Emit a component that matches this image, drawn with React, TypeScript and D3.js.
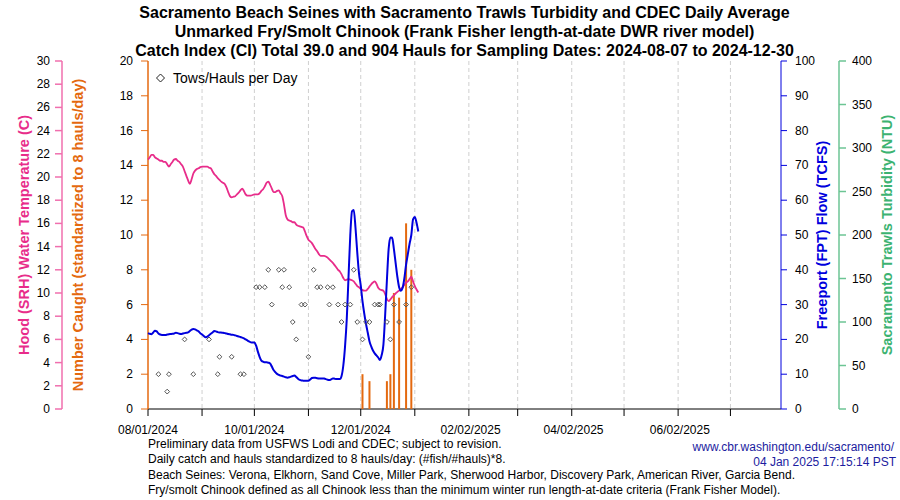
import React from "react";
import * as d3 from "d3";

// ---------- DATA ----------
const startDate = "2024-08-01";
const endDate = "2025-07-30";

// Hood (SRH) water temperature (C), daily from 2024-08-01
const temperature = [
  21.5, 21.7, 21.9, 21.9, 21.7, 21.6, 21.5, 21.4, 21.4, 21.3,
  21.3, 21.1, 20.9, 21.1, 21.3, 21.5, 21.55, 21.4, 21.3, 21.1,
  20.9, 20.5, 20.1, 19.7, 19.4, 19.8, 20.3, 20.55, 20.7, 20.75,
  20.85, 20.9, 20.9, 20.9, 20.9, 20.8, 20.75, 20.5, 20.25, 20.1,
  19.9, 19.75, 19.6, 19.5, 19.4, 19.1, 18.7, 18.35, 18.25, 18.3,
  18.35, 18.5, 18.65, 18.85, 19.0, 18.8, 18.5, 18.4, 18.4, 18.4,
  18.45, 18.5, 18.5, 18.5, 18.6, 18.8, 18.95, 19.2, 19.5, 19.6,
  19.35, 19.0, 18.7, 18.7, 18.8, 18.85, 18.6, 18.35, 17.6, 16.7,
  16.35, 16.25, 16.2, 16.1, 16.1, 15.9, 15.8, 15.75, 15.7, 15.65,
  15.3, 14.9, 14.6, 14.45, 14.3, 14.05, 13.8, 13.6, 13.35, 13.2,
  13.2, 13.2, 13.15, 13.05, 12.9, 12.75, 12.6, 12.4, 12.2, 12.0,
  11.85, 11.6, 11.3, 11.1, 11.15, 11.2, 11.15, 11.1, 11.0, 10.8,
  10.6, 10.5, 10.35, 10.25, 10.2, 10.2, 10.35, 10.55, 10.75, 10.9,
  11.0, 10.8, 10.45, 10.3, 10.25, 10.2, 9.9, 9.5, 9.3, 9.45,
  9.65, 9.8, 9.95, 10.1, 10.2, 10.35, 10.5, 10.7, 10.9, 11.0,
  11.2, 11.4, 11.0, 10.6, 10.3, 10.05,
];

// Freeport (FPT) flow (TCFS), daily from 2024-08-01
const flow = [
  21.8, 21.6, 21.5, 22.0, 22.5, 22.3, 21.7, 21.4, 21.3, 21.3,
  21.3, 21.4, 21.5, 21.55, 21.6, 21.7, 21.9, 21.8, 21.6, 21.55,
  21.7, 21.8, 21.9, 22.0, 22.4, 22.8, 23.0, 22.9, 22.6, 22.3,
  21.8, 21.4, 21.0, 20.6, 20.8, 21.2, 21.6, 22.0, 22.4, 22.3,
  22.1, 22.0, 21.95, 21.9, 21.8, 21.7, 21.55, 21.45, 21.35, 21.3,
  21.15, 21.0, 20.85, 20.7, 20.5, 20.3, 20.0, 19.7, 19.4, 19.15,
  19.1, 19.1, 18.2, 16.5, 15.0, 13.9, 13.6, 13.4, 13.4, 13.3,
  13.1, 12.2, 11.2, 10.6, 10.1, 9.8, 9.6, 9.5, 9.3, 9.1,
  9.0, 9.1, 9.3, 9.5, 9.6, 9.2, 8.7, 8.35, 8.2, 8.15,
  8.1, 8.1, 8.1, 8.5, 8.9, 9.0, 8.95, 8.85, 8.8, 8.8,
  8.8, 8.75, 8.6, 8.4, 8.3, 8.5, 8.8, 8.7, 8.6, 8.6,
  8.6, 9.5, 12.5, 18.0, 26.0, 38.0, 50.0, 56.8, 57.2, 52.0,
  45.0, 39.0, 35.5, 31.0, 27.5, 24.5, 22.0, 19.5, 18.0, 16.8,
  16.0, 15.4, 14.8, 14.1, 15.5, 18.5, 27.0, 37.0, 46.0, 49.3,
  49.2, 46.0, 42.0, 38.0, 35.0, 34.0, 34.8, 37.5, 41.5, 44.5,
  47.5, 50.0, 54.5, 55.2, 53.5, 51.0,
];

// Tows/hauls per day
const haulDates = [
  "2024-08-07", "2024-08-12", "2024-08-13", "2024-08-22", "2024-08-27",
  "2024-09-05", "2024-09-10", "2024-09-11", "2024-09-18", "2024-09-23",
  "2024-09-25", "2024-10-02", "2024-10-04", "2024-10-07", "2024-10-09",
  "2024-10-11", "2024-10-15", "2024-10-17", "2024-10-18", "2024-10-21",
  "2024-10-23", "2024-10-25", "2024-10-28", "2024-10-30", "2024-11-01",
  "2024-11-04", "2024-11-06", "2024-11-08", "2024-11-12", "2024-11-13",
  "2024-11-15", "2024-11-18", "2024-11-20", "2024-11-22", "2024-11-25",
  "2024-11-27", "2024-11-29", "2024-12-02", "2024-12-04", "2024-12-06",
  "2024-12-09", "2024-12-11", "2024-12-12", "2024-12-16", "2024-12-18",
  "2024-12-20", "2024-12-23", "2024-12-27", "2024-12-30",
];
const haulCounts = [
  2, 1, 2, 4, 2,
  4, 2, 3, 3, 2,
  2, 7, 7, 7, 8,
  6, 8, 7, 8, 7,
  5, 4, 6, 6, 3,
  8, 7, 7, 7, 6,
  7, 6, 5, 6, 6,
  8, 5, 4, 5, 5,
  6, 6, 6, 5, 4,
  6, 5, 6, 7,
];

// Number caught (standardized to 8 hauls/day)
const catchDates = [
  "2024-12-02", "2024-12-06", "2024-12-16", "2024-12-18",
  "2024-12-20", "2024-12-23", "2024-12-27", "2024-12-30",
];
const catchValues = [2.0, 1.6, 1.6, 2.0, 6.67, 6.4, 10.67, 8.0];

const xTickLabels = ["08/01/2024", "10/01/2024", "12/01/2024", "02/02/2025", "04/02/2025", "06/02/2025"];
const tempTicks = d3.range(0, 31, 2);
const countTicks = d3.range(0, 21, 2);
const flowTicks = d3.range(0, 101, 10);
const turbTicks = d3.range(0, 401, 50);

const titleLines = [
  "Sacramento Beach Seines with Sacramento Trawls Turbidity and CDEC Daily Average",
  "Unmarked Fry/Smolt Chinook (Frank Fisher length-at-date DWR river model)",
  "Catch Index (CI) Total 39.0 and 904 Hauls for Sampling Dates: 2024-08-07 to 2024-12-30",
];
const footerLines = [
  "Preliminary data from USFWS Lodi and CDEC; subject to revision.",
  "Daily catch and hauls standardized to 8 hauls/day: (#fish/#hauls)*8.",
  "Beach Seines: Verona, Elkhorn, Sand Cove, Miller Park, Sherwood Harbor, Discovery Park, American River, Garcia Bend.",
  "Fry/smolt Chinook defined as all Chinook less than the minimum winter run length-at-date criteria (Frank Fisher Model).",
];
const creditLines = ["www.cbr.washington.edu/sacramento/", "04 Jan 2025 17:15:14 PST"];

// ---------- STYLE ----------
const FONT = "'Liberation Sans', Arial, Helvetica, sans-serif";
const PINK = "#e82c8a";
const PINK_AXIS = "#f06fae";
const ORANGE = "#e4690f";
const BLUE = "#0000dd";
const GREEN = "#3cb371";
const GREEN_AXIS = "#6cc594";
const CREDIT = "#1c1ca0";

const W = 900;
const H = 500;
const L = 148;
const R = 781;
const T = 61;
const B = 409;

const parse = d3.utcParse("%Y-%m-%d");
const parseTick = d3.utcParse("%m/%d/%Y");

export default function App() {
  const x = d3.scaleUtc().domain([parse(startDate)!, parse(endDate)!]).range([L, R]);
  const yTemp = d3.scaleLinear().domain([0, 30]).range([B, T]);
  const yCount = d3.scaleLinear().domain([0, 20]).range([B, T]);
  const yFlow = d3.scaleLinear().domain([0, 100]).range([B, T]);
  const yTurb = d3.scaleLinear().domain([0, 400]).range([B, T]);

  const day0 = parse(startDate)!;
  const dayDate = (i: number) => d3.utcDay.offset(day0, i);

  const tempLine = d3
    .line<number>()
    .x((_, i) => x(dayDate(i)))
    .y((d) => yTemp(d))
    .curve(d3.curveMonotoneX);
  const flowLine = d3
    .line<number>()
    .x((_, i) => x(dayDate(i)))
    .y((d) => yFlow(d))
    .curve(d3.curveMonotoneX);

  const monthTicks = d3.utcMonth.range(day0, parse(endDate)!);
  const gridMonths = monthTicks.filter((d) => +d > +day0);

  const diamond = (cx: number, cy: number, r: number) =>
    `M${cx},${cy - r}L${cx + r},${cy}L${cx},${cy + r}L${cx - r},${cy}Z`;

  const tempAxisX = 62;
  const turbAxisX = 839;

  return (
    <svg
      width={W}
      height={H}
      style={{ position: "absolute", left: 0, top: 0, background: "#fff" }}
      fontFamily={FONT}
    >
      <rect x={0} y={0} width={W} height={H} fill="#fff" />

      {/* Title */}
      {titleLines.map((t, i) => (
        <text key={i} x={(L + R) / 2} y={18 + i * 19} textAnchor="middle" fontSize={16} fontWeight="bold" fill="#000">
          {t}
        </text>
      ))}

      {/* gridlines */}
      {gridMonths.map((d, i) => (
        <line key={i} x1={x(d)} x2={x(d)} y1={T} y2={B} stroke="#cfcfcf" strokeWidth={1} strokeDasharray="4,3" />
      ))}

      {/* x axis */}
      <line x1={L} x2={R} y1={B} y2={B} stroke="#000" strokeWidth={1} />
      {monthTicks.map((d, i) => (
        <line key={i} x1={x(d)} x2={x(d)} y1={B} y2={B + 7} stroke="#000" strokeWidth={1} />
      ))}
      {xTickLabels.map((s, i) => (
        <text key={i} x={x(parseTick(s)!)} y={434} textAnchor="middle" fontSize={12} fill="#000">
          {s}
        </text>
      ))}

      {/* Temperature axis (left outer) */}
      <line x1={tempAxisX} x2={tempAxisX} y1={T} y2={B} stroke={PINK_AXIS} strokeWidth={1.5} />
      {tempTicks.map((v) => (
        <g key={v}>
          <line x1={tempAxisX - 7} x2={tempAxisX} y1={yTemp(v)} y2={yTemp(v)} stroke={PINK_AXIS} strokeWidth={1.5} />
          <text x={50} y={yTemp(v) + 4} textAnchor="end" fontSize={12} fill="#000">
            {v}
          </text>
        </g>
      ))}
      <text
        transform={`translate(29,${(T + B) / 2}) rotate(-90)`}
        textAnchor="middle"
        fontSize={14.5}
        fontWeight="bold"
        fill={PINK}
      >
        Hood (SRH) Water Temperature (C)
      </text>
      <text
        transform={`translate(83,${(T + B) / 2}) rotate(-90)`}
        textAnchor="middle"
        fontSize={14.5}
        fontWeight="bold"
        fill={ORANGE}
      >
        Number Caught (standardized to 8 hauls/day)
      </text>

      {/* Count axis (left inner) */}
      <line x1={L} x2={L} y1={T} y2={B} stroke={ORANGE} strokeWidth={1.5} />
      {countTicks.map((v) => (
        <g key={v}>
          <line x1={L - 7} x2={L} y1={yCount(v)} y2={yCount(v)} stroke={ORANGE} strokeWidth={1} />
          <text x={133} y={yCount(v) + 4} textAnchor="end" fontSize={12} fill="#000">
            {v}
          </text>
        </g>
      ))}

      {/* Flow axis (right inner) */}
      <line x1={R} x2={R} y1={T} y2={B} stroke={BLUE} strokeWidth={1} />
      {flowTicks.map((v) => (
        <g key={v}>
          <line x1={R} x2={R + 6} y1={yFlow(v)} y2={yFlow(v)} stroke={BLUE} strokeWidth={1} />
          <text x={795} y={yFlow(v) + 4} textAnchor="start" fontSize={12} fill="#000">
            {v}
          </text>
        </g>
      ))}
      <text
        transform={`translate(827,${(T + B) / 2}) rotate(-90)`}
        textAnchor="middle"
        fontSize={14.5}
        fontWeight="bold"
        fill={BLUE}
      >
        Freeport (FPT) Flow (TCFS)
      </text>

      {/* Turbidity axis (right outer) */}
      <line x1={turbAxisX} x2={turbAxisX} y1={T} y2={B} stroke={GREEN_AXIS} strokeWidth={1.5} />
      {turbTicks.map((v) => (
        <g key={v}>
          <line x1={turbAxisX} x2={turbAxisX + 7} y1={yTurb(v)} y2={yTurb(v)} stroke={GREEN_AXIS} strokeWidth={1.5} />
          <text x={852} y={yTurb(v) + 4} textAnchor="start" fontSize={12} fill="#000">
            {v}
          </text>
        </g>
      ))}
      <text
        transform={`translate(892,${(T + B) / 2}) rotate(-90)`}
        textAnchor="middle"
        fontSize={14.5}
        fontWeight="bold"
        fill={GREEN}
      >
        Sacramento Trawls Turbidity (NTU)
      </text>

      {/* catch bars */}
      {catchDates.map((s, i) => (
        <line
          key={s}
          x1={x(parse(s)!)}
          x2={x(parse(s)!)}
          y1={yCount(0)}
          y2={yCount(catchValues[i])}
          stroke={ORANGE}
          strokeWidth={2}
        />
      ))}

      {/* temperature */}
      <path d={tempLine(temperature) || ""} fill="none" stroke={PINK} strokeWidth={1.8} />
      {/* flow */}
      <path d={flowLine(flow) || ""} fill="none" stroke={BLUE} strokeWidth={2} />

      {/* hauls */}
      {haulDates.map((s, i) => (
        <path
          key={s}
          d={diamond(x(parse(s)!), yCount(haulCounts[i]), 2.4)}
          fill="none"
          stroke="#555"
          strokeWidth={1}
        />
      ))}

      {/* legend */}
      <path d={diamond(160.5, 78, 4)} fill="none" stroke="#222" strokeWidth={1} />
      <text x={173} y={83} fontSize={14} fill="#000">
        Tows/Hauls per Day
      </text>

      {/* footer */}
      {footerLines.map((t, i) => (
        <text key={i} x={L} y={448 + i * 15.4} fontSize={12} fill="#000">
          {t}
        </text>
      ))}
      {creditLines.map((t, i) => (
        <text key={i} x={894 + i * 2} y={451 + i * 15} textAnchor="end" fontSize={12} fill={CREDIT}>
          {t}
        </text>
      ))}
    </svg>
  );
}
